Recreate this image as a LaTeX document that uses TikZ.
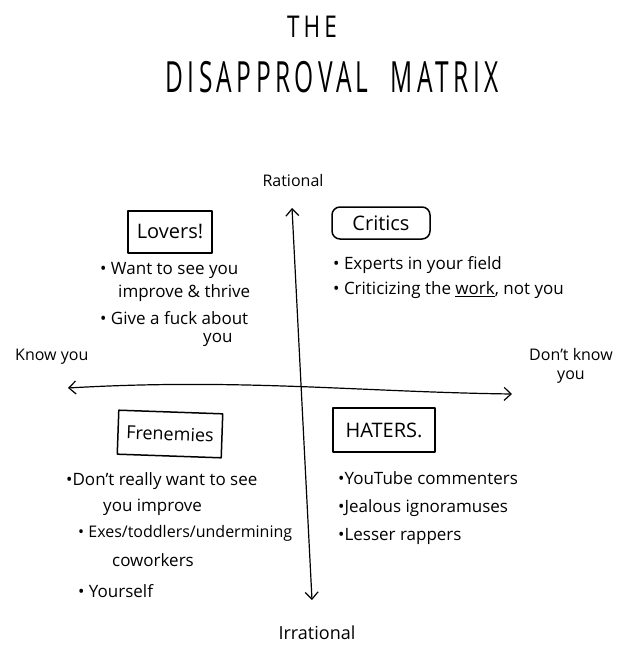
\documentclass[tikz,border=0pt]{standalone}
\usepackage{fontspec}
\setmainfont{Open Sans}
\newfontfamily\titlefont[LetterSpace=18]{Open Sans}
\usetikzlibrary{arrows.meta}
\tikzset{
  hw/.style={font=\fontsize{17}{20}\selectfont, inner sep=0pt, anchor=west},
  axl/.style={font=\fontsize{16}{19}\selectfont, inner sep=0pt},
  boxlbl/.style={draw, line width=1.5pt, font=\fontsize{20}{22}\selectfont, inner sep=0pt},
  axis/.style={line width=1.2pt, {Straight Barb[length=7pt,width=13pt]}-{Straight Barb[length=7pt,width=13pt]}}
}
\begin{document}
\begin{tikzpicture}[x=1pt,y=-1pt,line cap=round,line join=round]
\useasboundingbox (0,0) rectangle (640,671);
\fill[white] (0,0) rectangle (640,671);
% title
\node[font=\titlefont\fontsize{30}{32}\selectfont, inner sep=0pt] (the) at (312,27) {\scalebox{0.75}[1]{THE}};
\node[font=\titlefont\fontsize{43}{45}\selectfont, inner sep=0pt] (title) at (332,77) {\scalebox{0.57}[1]{DISAPPROVAL\hspace{0.9em}MATRIX}};
% axis labels
\node[axl] (rational) at (293,180) {Rational};
\node[axl, font=\fontsize{18}{20}\selectfont] (irrational) at (317,633) {Irrational};
\node[axl, anchor=west] (know) at (15,357) {Know you};
\node[axl, align=center] (dontknow) at (571,366) {Don't know\\you};
% axes
\coordinate (top) at (292,208);
\coordinate (bot) at (312,600);
\coordinate (left) at (68,388);
\coordinate (right) at (512,394);
\draw[axis] (top) -- (bot);
\draw[axis] (left) .. controls (240,378) and (360,392) .. (right);
% boxes
\node[boxlbl, minimum width=84pt, minimum height=42pt] (lovers) at (170,232) {Lovers!};
\node[boxlbl, rounded corners=8pt, minimum width=98pt, minimum height=32pt] (critics) at (381,223) {Critics};
\node[boxlbl, font=\fontsize{18}{20}\selectfont, minimum width=104pt, minimum height=44pt, rotate=-2] (frenemies) at (170,434) {Frenemies};
\node[boxlbl, minimum width=102pt, minimum height=44pt] (haters) at (384,430) {HATERS.};
% lovers
\node[hw] (l1) at (100,270) {• Want to see you};
\node[hw] (l2) at (118,293) {improve \& thrive};
\node[hw] (l3) at (100,318) {• Give a fuck about};
\node[hw] (l4) at (203,340) {you};
% critics
\node[hw] (c1) at (333,265) {• Experts in your field};
\node[hw] (c2) at (333,290) {• Criticizing the \underline{work}, not you};
% frenemies
\node[hw] (f1) at (66,481) {•Don't really want to see};
\node[hw] (f2) at (103,507) {you improve};
\node[hw, font=\fontsize{16}{19}\selectfont] (f3) at (78,533) {• Exes/toddlers/undermining};
\node[hw] (f4) at (112,560) {coworkers};
\node[hw] (f5) at (78,591) {• Yourself};
% haters
\node[hw] (h1) at (338,478) {•YouTube commenters};
\node[hw] (h2) at (338,508) {•Jealous ignoramuses};
\node[hw] (h3) at (338,536) {•Lesser rappers};
\end{tikzpicture}
\end{document}
